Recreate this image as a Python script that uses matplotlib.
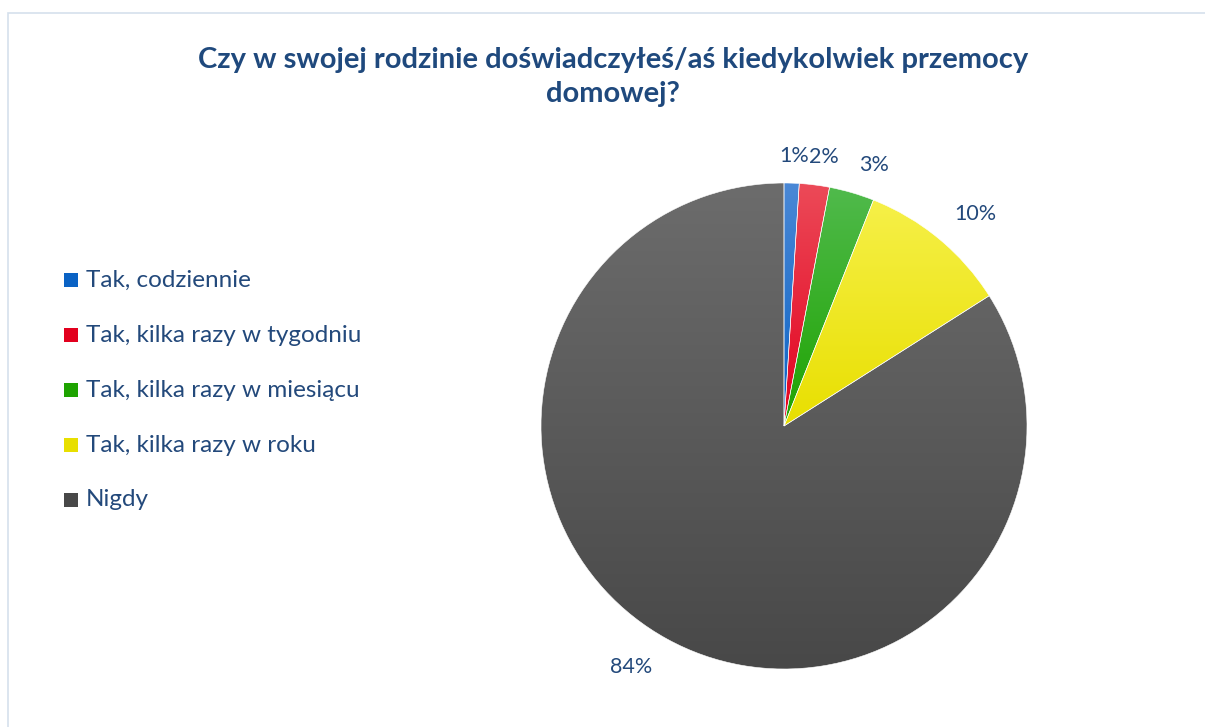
import numpy as np
import matplotlib.pyplot as plt
from matplotlib.colors import LinearSegmentedColormap
from matplotlib.patches import Rectangle

# ----- дані діаграми
categories = ['Tak, codziennie', 'Tak, kilka razy w tygodniu', 'Tak, kilka razy w miesiącu',
              'Tak, kilka razy w roku', 'Nigdy']
values = [1, 2, 3, 10, 84]
pct_labels = ['1%', '2%', '3%', '10%', '84%']
title = 'Czy w swojej rodzinie doświadczyłeś/aś kiedykolwiek przemocy\ndomowej?'

# кольори градієнта: (верх, низ)
grad_colors = [('#4a88d6', '#0a62c4'),
               ('#ec4a58', '#e2001e'),
               ('#50ba4c', '#1ea300'),
               ('#f6f048', '#e8df00'),
               ('#6c6c6c', '#484848')]
base_colors = [c[1] for c in grad_colors]
text_color = '#23497b'
# відстані підписів від центру (у радіусах) та кутовий зсув (градуси)
label_dist = [1.11, 1.12, 1.135, 1.175, 1.175]
label_shift = [-0.3, -1.3, -2.9, -2.6, -3.6]

plt.rcParams['font.family'] = ['Lato', 'DejaVu Sans']

W, H = 1205, 727
fig = plt.figure(figsize=(W / 100, H / 100), dpi=100)
fig.patch.set_facecolor('white')

# рамка
fig.patches.append(Rectangle((8 / W, -0.1), 1.2, (H - 13) / H + 0.1, transform=fig.transFigure,
                             fill=False, edgecolor='#d5e0ec', linewidth=1.2))

# ----- осі для кругової діаграми
cx, cy, r = 784, 426, 243
lim = 1.3
size = 2 * r * lim
ax = fig.add_axes([(cx - size / 2) / W, (H - cy - size / 2) / H, size / W, size / H])
wedges, _ = ax.pie(values, startangle=90, counterclock=False, radius=1,
                   colors=base_colors,
                   wedgeprops=dict(edgecolor='white', linewidth=0.4))
ax.set_aspect('auto')
ax.axis('off')

# градієнтна заливка кожного сектора + підписи
for w, (c_top, c_bot), s, d, sh in zip(wedges, grad_colors, pct_labels, label_dist, label_shift):
    ext = w.get_path().get_extents()
    cmap = LinearSegmentedColormap.from_list('g', [c_bot, c_top])
    grad = np.linspace(0, 1, 256).reshape(-1, 1)
    im = ax.imshow(grad, cmap=cmap, origin='lower', aspect='auto',
                   extent=[ext.x0, ext.x1, ext.y0, ext.y1], zorder=1)
    im.set_clip_path(w)
    w.set_facecolor('none')
    w.set_zorder(2)
    ang = np.deg2rad((w.theta1 + w.theta2) / 2 + sh)
    ax.text(d * np.cos(ang), d * np.sin(ang), s, ha='center', va='center',
            fontsize=15.5, color=text_color)
ax.set_xlim(-lim, lim)
ax.set_ylim(-lim, lim)

# ----- заголовок
fig.text(613 / W, 1 - 77 / H, title, ha='center', va='center', fontsize=21,
         fontweight='bold', color='#1f497d', linespacing=1.4)

# ----- легенда
for i, (cat, (c_top, c_bot)) in enumerate(zip(categories, grad_colors)):
    y = 1 - (280 + 55 * i) / H
    fig.patches.append(Rectangle((64 / W, y - 7 / H), 14 / W, 14 / H, transform=fig.transFigure,
                                 facecolor=c_bot, edgecolor='none'))
    fig.text(86 / W, y, cat, ha='left', va='center', fontsize=17.5, color=text_color)

fig.savefig('out.png', dpi=100)
